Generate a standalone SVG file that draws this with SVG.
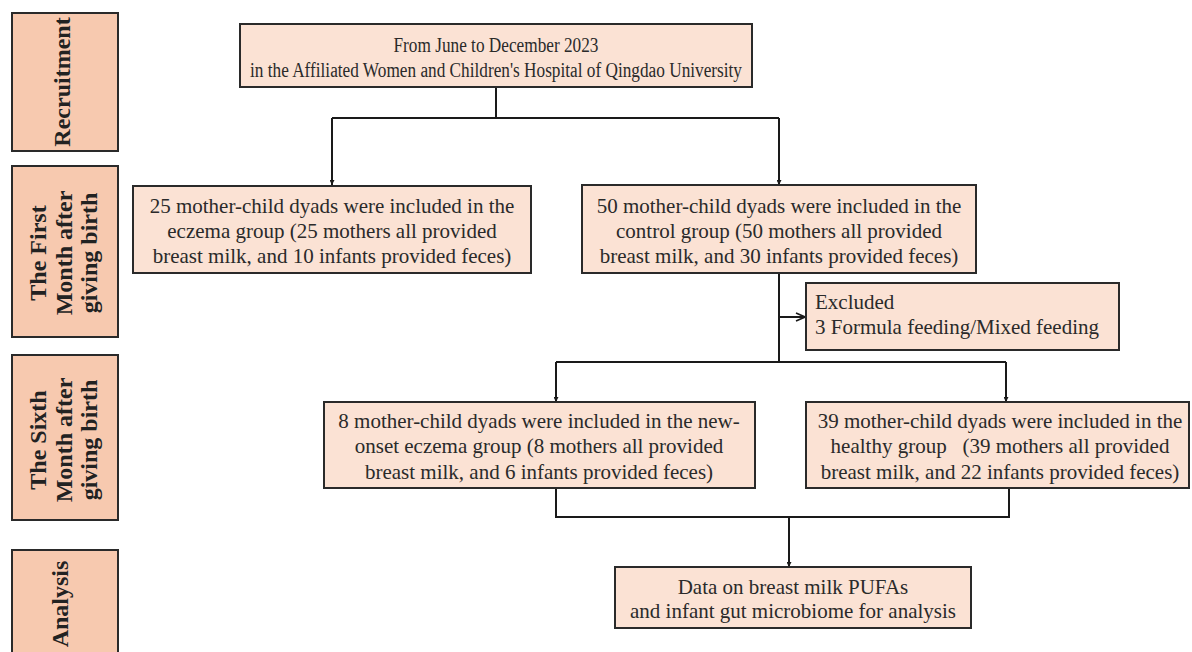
<svg xmlns="http://www.w3.org/2000/svg" width="1192" height="652" viewBox="0 0 1192 652">
<style>
.lab{fill:#F7C9AF;stroke:#2a2a2a;stroke-width:2}
.box{fill:#FBE2D4;stroke:#2a2a2a;stroke-width:2}
.lt{font-family:"Liberation Serif","Times New Roman",serif;font-weight:bold;font-size:24px;fill:#222;text-anchor:middle}
.t{font-family:"Liberation Serif","Times New Roman",serif;font-size:21px;fill:#2a2a2a;text-anchor:middle}
.tl{font-family:"Liberation Serif","Times New Roman",serif;font-size:21px;fill:#2a2a2a}
.c{fill:none;stroke:#1a1a1a;stroke-width:2}
</style>
<defs>
<marker id="ah" viewBox="0 0 10 10" refX="10" refY="5" markerWidth="5" markerHeight="5" orient="auto" markerUnits="userSpaceOnUse">
<path d="M0,0 L10,5 L0,10 Z" fill="#1a1a1a"/>
</marker>
<marker id="oa" viewBox="0 0 10 10" refX="10" refY="5" markerWidth="10" markerHeight="10" orient="auto" markerUnits="userSpaceOnUse">
<path d="M1,1 L10,5 L1,9" fill="none" stroke="#1a1a1a" stroke-width="1.6"/>
</marker>
</defs>
<rect width="1192" height="652" fill="#ffffff"/>

<g id="label-recruitment">
<rect class="lab" x="12" y="13" width="106" height="138"/>
<text class="lt" transform="translate(0,82) rotate(-90)" x="0" y="70">Recruitment</text>
</g>
<g id="label-first-month">
<rect class="lab" x="12" y="166" width="106" height="171"/>
<text class="lt" transform="translate(0,253) rotate(-90)"><tspan x="0" y="46">The First</tspan><tspan x="0" y="72">Month after</tspan><tspan x="0" y="97">giving birth</tspan></text>
</g>
<g id="label-sixth-month">
<rect class="lab" x="12" y="355" width="106" height="165"/>
<text class="lt" transform="translate(0,440) rotate(-90)"><tspan x="0" y="46">The Sixth</tspan><tspan x="0" y="72">Month after</tspan><tspan x="0" y="97">giving birth</tspan></text>
</g>
<g id="label-analysis">
<rect class="lab" x="12" y="550" width="106" height="112"/>
<text class="lt" transform="translate(0,604) rotate(-90)" x="0" y="68">Analysis</text>
</g>

<g id="connectors">
<path class="c" d="M496,87 V118"/>
<path class="c" d="M332,118 H779"/>
<path class="c" d="M332,118 V185" marker-end="url(#ah)"/>
<path class="c" d="M779,118 V185" marker-end="url(#ah)"/>
<path class="c" d="M779,273 V362"/>
<path class="c" d="M779,317 H805" marker-end="url(#oa)"/>
<path class="c" d="M556,362 H1006"/>
<path class="c" d="M556,362 V402" marker-end="url(#ah)"/>
<path class="c" d="M1006,362 V402" marker-end="url(#ah)"/>
<path class="c" d="M556,488 V517 H1009 V488"/>
<path class="c" d="M789,517 V567" marker-end="url(#ah)"/>
</g>

<g id="node-recruitment">
<rect class="box" x="240" y="24" width="512" height="63"/>
<text class="t" style="font-size:20px" x="496" y="52" textLength="205" lengthAdjust="spacingAndGlyphs">From June to December 2023</text>
<text class="t" style="font-size:20px" x="496" y="77" textLength="492" lengthAdjust="spacingAndGlyphs">in the Affiliated Women and Children's Hospital of Qingdao University</text>
</g>
<g id="node-eczema">
<rect class="box" x="133" y="186" width="398" height="87"/>
<text class="t"><tspan x="332" y="213">25 mother-child dyads were included in the</tspan><tspan x="332" y="238">eczema group (25 mothers all provided</tspan><tspan x="332" y="263">breast milk, and 10 infants provided feces)</tspan></text>
</g>
<g id="node-control">
<rect class="box" x="582" y="185" width="394" height="88"/>
<text class="t"><tspan x="779" y="213">50 mother-child dyads were included in the</tspan><tspan x="779" y="238">control group (50 mothers all provided</tspan><tspan x="779" y="263">breast milk, and 30 infants provided feces)</tspan></text>
</g>
<g id="node-excluded">
<rect class="box" x="806" y="283" width="313" height="67"/>
<text class="tl"><tspan x="815" y="309">Excluded</tspan><tspan x="815" y="334">3 Formula feeding/Mixed feeding</tspan></text>
</g>
<g id="node-new-onset">
<rect class="box" x="324" y="402" width="431" height="86"/>
<text class="t"><tspan x="539" y="428">8 mother-child dyads were included in the new-</tspan><tspan x="539" y="453">onset eczema group (8 mothers all provided</tspan><tspan x="539" y="479">breast milk, and 6 infants provided feces)</tspan></text>
</g>
<g id="node-healthy">
<rect class="box" x="806" y="402" width="383" height="86"/>
<text class="t" xml:space="preserve"><tspan x="1000" y="428">39 mother-child dyads were included in the</tspan><tspan x="1000" y="453">healthy group   (39 mothers all provided</tspan><tspan x="1000" y="479">breast milk, and 22 infants provided feces)</tspan></text>
</g>
<g id="node-analysis">
<rect class="box" x="615" y="567" width="356" height="61"/>
<text class="t"><tspan x="793" y="594">Data on breast milk PUFAs</tspan><tspan x="793" y="618">and infant gut microbiome for analysis</tspan></text>
</g>
</svg>
